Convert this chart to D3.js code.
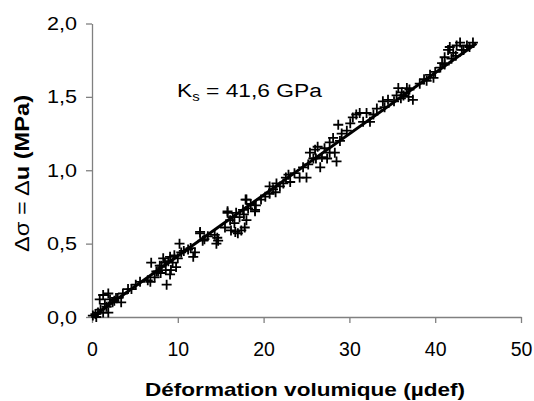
<!DOCTYPE html>
<html>
<head>
<meta charset="utf-8">
<script src="https://cdn.jsdelivr.net/npm/d3@7"></script>
<style>
  body { margin: 0; background: #fff; }
  text { font-family: "Liberation Sans", Arial, sans-serif; }
</style>
</head>
<body>
<svg id="chart"></svg>
<script>
// measured points (volumetric strain in µdef, stress change in MPa)
let strainX = [
  0.1, 0.7, 1.3, 1.9, 0.9, 1.3, 1.9, 2.1, 1.5, 2.4, 3.0, 3.4, 3.6, 4.2, 5.1, 5.6, 6.5,
  0.4, 1.0, 2.6, 4.6, 0.5, 1.7, 2.8,
  6.9, 6.8, 7.3, 7.7, 7.9, 8.3, 8.5, 8.9, 8.6, 9.1, 9.4, 9.8, 10.0, 10.2, 8.7, 9.2, 8.0, 9.1,
  7.5, 8.1, 9.6, 10.4, 10.7,
  11.2, 11.8, 12.0, 12.6, 12.9, 13.5, 14.3, 14.5, 14.7, 12.6, 14.6, 13.1, 11.5,
  15.5, 15.8, 16.1, 16.2, 16.6, 16.8, 17.2, 17.4, 17.6, 17.8, 17.9, 18.0, 18.2, 16.7, 17.0,
  15.8, 18.0, 19.0, 16.4, 17.7, 18.5,
  19.0, 19.1, 19.7, 20.2, 20.7, 20.7, 21.1, 21.4, 21.9, 22.3, 22.6, 21.5,
  23.1, 24.2, 25.0, 23.6, 24.6, 22.9,
  25.4, 25.8, 26.0, 26.3, 26.6, 26.8, 27.4, 27.7, 27.7, 28.1, 28.5, 28.3, 28.7, 29.1, 29.7,
  25.2, 26.1, 27.1, 28.9,
  30.1, 30.4, 30.8, 31.2, 32.0, 32.4, 33.2, 33.9, 34.5, 31.6, 32.8, 34.1,
  35.5, 35.7, 36.1, 36.7, 36.9, 37.4, 35.2, 36.3, 37.0, 36.0,
  38.2, 39.0, 39.8, 40.0, 40.6, 40.8, 38.7, 39.4,
  41.1, 41.5, 41.7, 42.1, 42.5, 42.9, 43.1, 43.7, 44.4, 41.1, 41.9, 42.4, 43.3, 44.0
];
let stressY = [
  0.01, 0.03, 0.03, 0.03, 0.12, 0.15, 0.16, 0.12, 0.09, 0.10, 0.13, 0.10, 0.16, 0.19, 0.22, 0.24, 0.25,
  0.02, 0.05, 0.11, 0.19, 0.00, 0.07, 0.13,
  0.37, 0.24, 0.27, 0.31, 0.35, 0.40, 0.37, 0.38, 0.32, 0.41, 0.37, 0.34, 0.40, 0.50, 0.22, 0.32, 0.30, 0.29,
  0.31, 0.35, 0.42, 0.44, 0.45,
  0.46, 0.41, 0.44, 0.57, 0.52, 0.55, 0.56, 0.50, 0.52, 0.58, 0.54, 0.53, 0.47,
  0.61, 0.71, 0.66, 0.59, 0.64, 0.71, 0.68, 0.59, 0.73, 0.61, 0.80, 0.66, 0.74, 0.58, 0.57,
  0.72, 0.80, 0.72, 0.68, 0.70, 0.77,
  0.73, 0.76, 0.80, 0.82, 0.84, 0.89, 0.87, 0.85, 0.89, 0.91, 0.95, 0.91,
  0.92, 0.95, 0.95, 0.98, 1.02, 0.97,
  1.12, 1.08, 1.14, 1.16, 1.02, 1.09, 1.08, 1.12, 1.19, 1.22, 1.06, 1.12, 1.31, 1.25, 1.27,
  1.04, 1.08, 1.15, 1.20,
  1.32, 1.36, 1.38, 1.39, 1.39, 1.33, 1.42, 1.47, 1.48, 1.33, 1.38, 1.43,
  1.51, 1.56, 1.53, 1.56, 1.50, 1.48, 1.47, 1.51, 1.55, 1.49,
  1.59, 1.61, 1.63, 1.67, 1.70, 1.73, 1.62, 1.65,
  1.77, 1.82, 1.84, 1.80, 1.85, 1.87, 1.82, 1.85, 1.87, 1.72, 1.76, 1.78, 1.82, 1.84
];

// regression line end points
let fitX = [0, 44.8];
let modulusGPa = 41.6;

let xTicks = [0, 10, 20, 30, 40, 50];
let yTicks = [0, 0.5, 1.0, 1.5, 2.0];

let width = 534;
let height = 401;

let svg = d3.select("#chart")
    .attr("width", width)
    .attr("height", height);

let x = d3.scaleLinear().domain([0, 50]).range([92, 521]);
let y = d3.scaleLinear().domain([0, 2]).range([317, 23.5]);

// comma as decimal separator
let fmt = d => d3.format(".1f")(d).replace(".", ",");

// x axis
let xAxis = svg.append("g")
    .attr("transform", "translate(0," + y(0) + ")")
    .call(d3.axisBottom(x).tickValues(xTicks).tickSize(6).tickSizeOuter(0).tickPadding(19));

// y axis
let yAxis = svg.append("g")
    .attr("transform", "translate(" + x(0) + ",0)")
    .call(d3.axisLeft(y).tickValues(yTicks).tickFormat(fmt).tickSize(6).tickSizeOuter(0).tickPadding(9));

[xAxis, yAxis].forEach(a => {
    a.select(".domain").attr("stroke", "#808080").attr("stroke-width", 1.3);
    a.selectAll(".tick line").attr("stroke", "#808080").attr("stroke-width", 1.3);
    a.selectAll(".tick text")
        .attr("fill", "#000")
        .attr("font-size", 19.5);
});
yAxis.selectAll(".tick text")
    .attr("font-size", 19)
    .attr("textLength", 30)
    .attr("lengthAdjust", "spacingAndGlyphs");

// regression line
let fit = fitX.map(v => [v, v * modulusGPa / 1000]);
svg.append("path")
    .datum(fit)
    .attr("fill", "none")
    .attr("stroke", "#000")
    .attr("stroke-width", 3)
    .attr("d", d3.line().x(d => x(d[0])).y(d => y(d[1])));

// "+" markers
let pts = strainX.map((v, i) => [v, stressY[i]]);
let s = 5;
svg.append("g").selectAll("path")
    .data(pts)
    .enter().append("path")
        .attr("fill", "none")
        .attr("stroke", "#000")
        .attr("stroke-width", 1.8)
        .attr("d", d => {
            let cx = x(d[0]), cy = y(d[1]);
            return "M" + (cx - s) + "," + cy + "H" + (cx + s) + "M" + cx + "," + (cy - s) + "V" + (cy + s);
        });

// annotation (stretched a little, like the original)
let ann = svg.append("text")
    .attr("transform", "translate(177,97) scale(1.2,1)")
    .attr("font-size", 19)
    .attr("fill", "#000");
ann.append("tspan").text("K");
ann.append("tspan").attr("font-size", 12.5).attr("dy", 4).text("s");
ann.append("tspan").attr("dy", -4).text(" = 41,6 GPa");

// x title
svg.append("text")
    .attr("x", 145)
    .attr("y", 396)
    .attr("font-size", 19)
    .attr("font-weight", "bold")
    .attr("textLength", 320)
    .attr("lengthAdjust", "spacingAndGlyphs")
    .text("Déformation volumique (µdef)");

// y title
let yt = svg.append("text")
    .attr("transform", "translate(29,252) rotate(-90)")
    .attr("font-size", 20)
    .attr("textLength", 157)
    .attr("lengthAdjust", "spacingAndGlyphs");
yt.append("tspan").text("Δσ = Δ");
yt.append("tspan").attr("font-weight", "bold").text("u (MPa)");
</script>
</body>
</html>
